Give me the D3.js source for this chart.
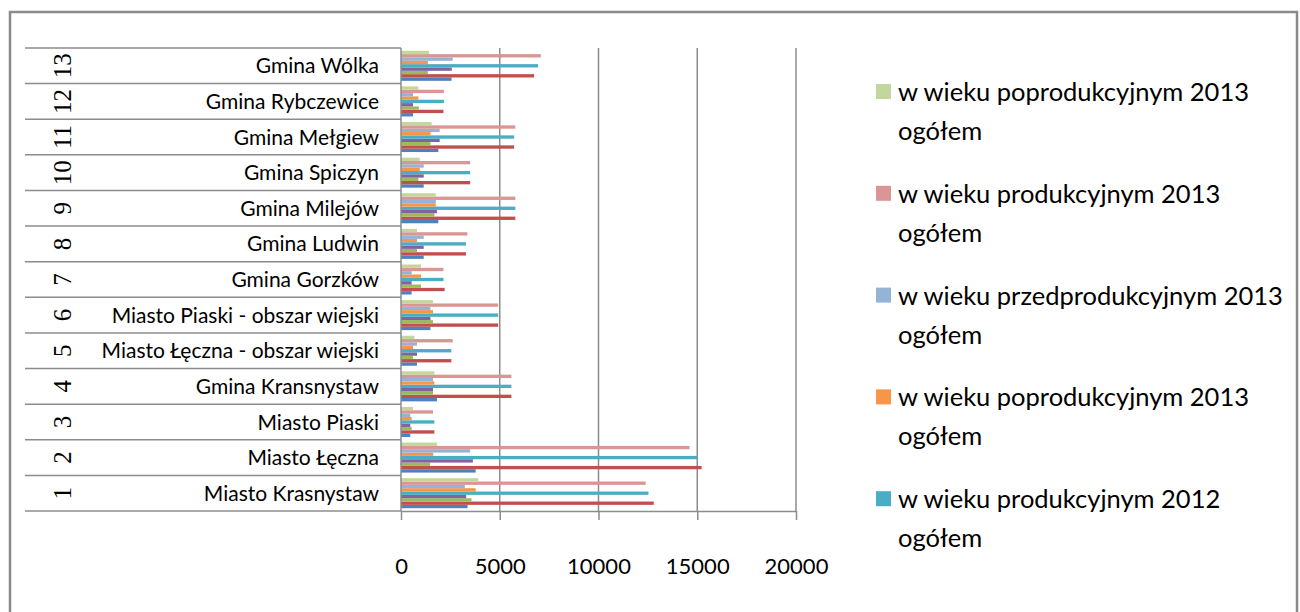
<!DOCTYPE html>
<html>
<head>
<meta charset="utf-8">
<script src="https://cdn.jsdelivr.net/npm/d3@7"></script>
<style>
    body { margin: 0; background: #fff; }
    svg { display: block; }
    .cat-name { font-family: Lato, sans-serif; font-size: 21px; fill: #000; }
    .cat-num { font-family: "Liberation Serif", serif; font-size: 25px; fill: #000; }
    .x-axis text { font-family: Lato, sans-serif; font-size: 22px; fill: #000; }
    .legend text { font-family: Lato, sans-serif; font-size: 25.5px; fill: #000; }
</style>
</head>
<body>
<svg id="chart" width="1300" height="612"></svg>
<script>
// categories, bottom to top
const categories = [
    'Miasto Krasnystaw', 'Miasto Łęczna', 'Miasto Piaski', 'Gmina Kransnystaw',
    'Miasto Łęczna - obszar wiejski', 'Miasto Piaski - obszar wiejski', 'Gmina Gorzków',
    'Gmina Ludwin', 'Gmina Milejów', 'Gmina Spiczyn', 'Gmina Mełgiew',
    'Gmina Rybczewice', 'Gmina Wólka'
];
const categoryNumbers = ['1', '2', '3', '4', '5', '6', '7', '8', '9', '10', '11', '12', '13'];

const seriesNames = [
    'w wieku przedprodukcyjnym 2011 ogółem',
    'w wieku produkcyjnym 2011 ogółem',
    'w wieku poprodukcyjnym 2011 ogółem',
    'w wieku przedprodukcyjnym 2012 ogółem',
    'w wieku produkcyjnym 2012 ogółem',
    'w wieku poprodukcyjnym 2013 ogółem',
    'w wieku przedprodukcyjnym 2013 ogółem',
    'w wieku produkcyjnym 2013 ogółem',
    'w wieku poprodukcyjnym 2013 ogółem'
];
const seriesColors = ['#4F81BD', '#C0504D', '#9BBB59', '#8064A2', '#4BACC6', '#F79646', '#95B3D7', '#DA9694', '#C3D69B'];

const s1 = [3370, 3780, 470, 1820, 810, 1490, 540, 1150, 1890, 1150, 1890, 610, 2560];
const s2 = [12800, 15220, 1690, 5590, 2550, 4920, 2210, 3290, 5790, 3500, 5730, 2150, 6740];
const s3 = [3570, 1470, 540, 1620, 610, 1620, 1010, 810, 1690, 880, 1490, 900, 1360];
const s4 = [3300, 3640, 470, 1620, 810, 1490, 540, 1150, 1820, 1150, 1960, 610, 2570];
const s5 = [12530, 15000, 1690, 5590, 2550, 4920, 2150, 3290, 5790, 3500, 5730, 2170, 6940];
const s6 = [3780, 1630, 540, 1690, 610, 1620, 1010, 810, 1760, 950, 1490, 880, 1360];
const s7 = [3230, 3500, 470, 1620, 810, 1490, 540, 1150, 1760, 1150, 1960, 610, 2620];
const s8 = [12390, 14610, 1620, 5590, 2620, 4920, 2150, 3360, 5790, 3500, 5790, 2170, 7080];
const s9 = [3910, 1830, 610, 1690, 680, 1620, 1010, 810, 1760, 950, 1550, 880, 1420];
const seriesValues = [s1, s2, s3, s4, s5, s6, s7, s8, s9];

const xTicks = [0, 5000, 10000, 15000, 20000];
// legend shows only the last five series (the rest is clipped)
const legendSeries = [8, 7, 6, 5, 4];

const svg = d3.select('#chart');

// outer chart border
svg.append('rect')
    .attr('x', 10)
    .attr('y', 12)
    .attr('width', 1287)
    .attr('height', 640)
    .attr('fill', 'none')
    .attr('stroke', '#8a8a8a')
    .attr('stroke-width', 2.5);

const x = d3.scaleLinear()
    .domain([0, 20000])
    .range([401, 796]);

const y = d3.scaleBand()
    .domain(d3.range(categories.length).reverse())
    .range([48, 511]);

const ySeries = d3.scaleBand()
    .domain(d3.range(seriesNames.length).reverse())
    .range([0, y.bandwidth()])
    .paddingOuter(0.84);

// gridlines
svg.append('g')
    .selectAll('line')
    .data(xTicks.slice(1))
    .enter()
    .append('line')
    .attr('x1', d => x(d))
    .attr('x2', d => x(d))
    .attr('y1', 48)
    .attr('y2', 511)
    .attr('stroke', '#8c8c8c')
    .attr('stroke-width', 1.5);

// category separators in the label area
svg.append('g')
    .selectAll('line')
    .data(d3.range(categories.length + 1))
    .enter()
    .append('line')
    .attr('x1', 25)
    .attr('x2', 401)
    .attr('y1', d => d < categories.length ? y(d) + y.bandwidth() : y(categories.length - 1))
    .attr('y2', d => d < categories.length ? y(d) + y.bandwidth() : y(categories.length - 1))
    .attr('stroke', '#8c8c8c')
    .attr('stroke-width', 1.5);

// bars
const groups = svg.append('g')
    .selectAll('g')
    .data(categories.map((c, i) => i))
    .enter()
    .append('g')
    .attr('transform', d => `translate(0,${y(d)})`);

groups.selectAll('rect')
    .data(ci => seriesValues.map((vals, si) => ({ si, v: vals[ci] })))
    .enter()
    .append('rect')
    .attr('x', x(0))
    .attr('y', d => ySeries(d.si))
    .attr('width', d => x(d.v) - x(0))
    .attr('height', ySeries.bandwidth())
    .attr('fill', d => seriesColors[d.si]);

// x axis
const xAxis = svg.append('g')
    .attr('class', 'x-axis')
    .attr('transform', 'translate(0,511)')
    .call(d3.axisBottom(x)
        .tickValues(xTicks)
        .tickFormat(d3.format('d'))
        .tickSize(9)
        .tickPadding(38)
        .tickSizeOuter(0));

xAxis.select('.domain').attr('stroke', '#8c8c8c').attr('stroke-width', 1.5);
xAxis.selectAll('.tick line').attr('stroke', '#8c8c8c').attr('stroke-width', 1.5);

// y axis line
svg.append('line')
    .attr('x1', 401)
    .attr('x2', 401)
    .attr('y1', 48)
    .attr('y2', 511)
    .attr('stroke', '#8c8c8c')
    .attr('stroke-width', 1.5);

// category names
svg.append('g')
    .selectAll('text')
    .data(categories)
    .enter()
    .append('text')
    .attr('class', 'cat-name')
    .attr('x', 379)
    .attr('y', (d, i) => y(i) + y.bandwidth() / 2)
    .attr('dy', '0.36em')
    .attr('text-anchor', 'end')
    .text(d => d);

// rotated category numbers
svg.append('g')
    .selectAll('text')
    .data(categoryNumbers)
    .enter()
    .append('text')
    .attr('class', 'cat-num')
    .attr('transform', (d, i) => `translate(62,${y(i) + y.bandwidth() / 2}) rotate(-90)`)
    .attr('dy', '0.35em')
    .attr('text-anchor', 'middle')
    .text(d => d);

// legend
const legend = svg.append('g')
    .attr('class', 'legend');

const items = legend.selectAll('g')
    .data(legendSeries)
    .enter()
    .append('g')
    .attr('transform', (d, i) => `translate(876,${101 + i * 101.8})`);

items.append('rect')
    .attr('x', 0)
    .attr('y', -17)
    .attr('width', 15)
    .attr('height', 15)
    .attr('fill', d => seriesColors[d]);

items.append('text')
    .attr('x', 22)
    .attr('y', 0)
    .text(d => seriesNames[d].replace(' ogółem', ''));

items.append('text')
    .attr('x', 22)
    .attr('y', 39)
    .text('ogółem');
</script>
</body>
</html>
